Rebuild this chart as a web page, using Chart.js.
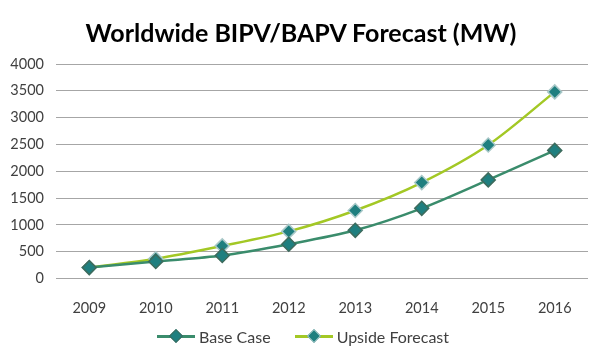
<!DOCTYPE html>
<html>
<head>
<meta charset="utf-8">
<script src="https://cdn.jsdelivr.net/npm/chart.js@4"></script>
<style>
  html, body { margin: 0; padding: 0; background: #fff; }
  .wrap { position: relative; width: 600px; height: 362px; }
  canvas { display: block; }
  .title {
    position: absolute; left: 2px; right: 0; top: 17px; text-align: center;
    font-family: Lato, "Open Sans", sans-serif; font-size: 25px; font-weight: bold; color: #000;
    line-height: 30px;
  }
  .legend {
    position: absolute; left: 0; right: 0; top: 326px;
    display: flex; justify-content: center; gap: 24px; padding-left: 6px;
    font-family: Lato, "Open Sans", sans-serif; font-size: 16px; color: #404040;
  }
  .legend .item { display: flex; align-items: center; }
  .legend .swatch { position: relative; width: 38px; height: 20px; margin-right: 4px; }
  .legend .swatch .line { position: absolute; left: 0; right: 0; top: 9px; height: 3px; }
  .legend .swatch .dot {
    position: absolute; left: 14px; top: 5px; width: 8px; height: 8px;
    transform: rotate(45deg); background: #1f7f7f; border: 1px solid;
  }
</style>
</head>
<body>
<div class="wrap">
  <canvas id="chart" width="600" height="362"></canvas>
  <div class="title">Worldwide BIPV/BAPV Forecast (MW)</div>
  <div class="legend">
    <div class="item"><div class="swatch"><div class="line" style="background:#3a8c6c"></div><div class="dot" style="border-color:#3d6b5d"></div></div>Base Case</div>
    <div class="item"><div class="swatch"><div class="line" style="background:#a3c825"></div><div class="dot" style="border-color:#a8c8c8"></div></div>Upside Forecast</div>
  </div>
</div>
<script>
const years = ['2009', '2010', '2011', '2012', '2013', '2014', '2015', '2016'];
const baseCase = [205, 320, 430, 640, 900, 1310, 1840, 2390];
const upsideForecast = [205, 370, 610, 880, 1270, 1790, 2490, 3480];

const tickFont = { family: 'Lato, "Open Sans", sans-serif', size: 14.5 };

new Chart(document.getElementById('chart'), {
  type: 'line',
  data: {
    labels: years,
    datasets: [
      {
        label: 'Base Case',
        data: baseCase,
        borderColor: '#3a8c6c',
        borderWidth: 2.5,
        pointStyle: 'rectRot',
        pointRadius: 7,
        pointBackgroundColor: '#1f7f7f',
        pointBorderColor: '#3d6b5d',
        pointBorderWidth: 1.5,
        tension: 0.3
      },
      {
        label: 'Upside Forecast',
        data: upsideForecast,
        borderColor: '#a3c825',
        borderWidth: 2.5,
        pointStyle: 'rectRot',
        pointRadius: 7,
        pointBackgroundColor: '#1f7f7f',
        pointBorderColor: '#a8c8c8',
        pointBorderWidth: 1.5,
        tension: 0.3
      }
    ]
  },
  options: {
    responsive: false,
    animation: false,
    layout: { padding: { left: 0, right: 12, top: 64, bottom: 32 } },
    plugins: {
      legend: { display: false },
      tooltip: { enabled: false }
    },
    scales: {
      x: {
        offset: true,
        grid: { display: false },
        border: { display: false },
        ticks: { color: '#404040', font: tickFont, padding: 13 }
      },
      y: {
        min: 0,
        max: 4000,
        afterFit: axis => { axis.width = 56; },
        ticks: {
          stepSize: 500,
          color: '#404040',
          font: tickFont,
          padding: 12,
          callback: value => String(value)
        },
        grid: { color: '#a6a6a6', drawTicks: false },
        border: { display: false }
      }
    }
  }
});
</script>
</body>
</html>
